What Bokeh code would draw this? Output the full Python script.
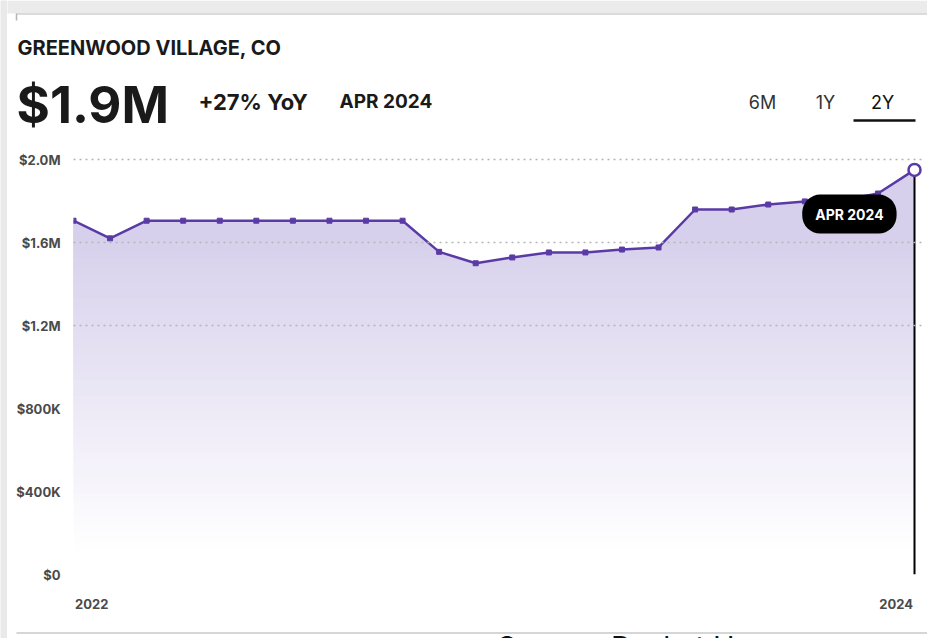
from bokeh.plotting import figure
from bokeh.models import Range1d, FixedTicker, Label, ColumnDataSource
from bokeh.layouts import column, row
from bokeh.embed import file_html
from bokeh.resources import INLINE
from bokeh.core.properties import value
import numpy as np

# ---- data (monthly median sale price, May 2022 .. Apr 2024) ----
months = ["May 2022", "Jun 2022", "Jul 2022", "Aug 2022", "Sep 2022", "Oct 2022",
          "Nov 2022", "Dec 2022", "Jan 2023", "Feb 2023", "Mar 2023", "Apr 2023",
          "May 2023", "Jun 2023", "Jul 2023", "Aug 2023", "Sep 2023", "Oct 2023",
          "Nov 2023", "Dec 2023", "Jan 2024", "Feb 2024", "Mar 2024", "Apr 2024"]
prices = [1705000, 1620000, 1705000, 1705000, 1705000, 1705000,
          1705000, 1705000, 1705000, 1705000, 1555000, 1500000,
          1528000, 1552000, 1552000, 1566000, 1576000, 1759000,
          1759000, 1783000, 1798000, 1802000, 1836000, 1950000]
y_tick_values = [0, 400000, 800000, 1200000, 1600000, 2000000]
y_tick_labels = ["$0", "$400K", "$800K", "$1.2M", "$1.6M", "$2.0M"]
x_tick_labels = ["2022", "2024"]
title_text = "GREENWOOD VILLAGE, CO"
headline = "$1.9M"
yoy_text = "+27% YoY"
period_text = "APR 2024"
tabs = ["6M", "1Y", "2Y"]
source_text = "Source: Rocket Homes"

x = list(range(len(prices)))
FONT = "Inter"
LINE = "#5a3ba6"
SW = 7            # grey page strip on the left
W = 927 - SW      # width of the card column
TOTAL_H = 638

# ---------------- left grey strip ----------------
strip = figure(width=SW, height=TOTAL_H, output_backend="svg", toolbar_location=None,
               min_border=0, outline_line_color=None)
strip.frame_align = False
strip.axis.visible = False
strip.grid.visible = False
strip.background_fill_color = "#e9e9e9"
strip.border_fill_color = "#e9e9e9"

# ---------------- header ----------------
HH = 140
hdr = figure(width=W, height=HH, output_backend="svg", toolbar_location=None,
             x_range=Range1d(SW, SW + W), y_range=Range1d(HH, 0),
             min_border=0, outline_line_color=None)
hdr.frame_align = False
hdr.axis.visible = False
hdr.grid.visible = False
hdr.quad(left=[0], right=[927], top=[0], bottom=[13], fill_color="#ebebeb", line_color=None)
hdr.segment(x0=[16], y0=[13.5], x1=[927], y1=[13.5], line_color="#d0d0d0", line_width=1.5)
hdr.segment(x0=[16], y0=[13], x1=[16], y1=[20], line_color="#b5b5b5", line_width=1.5)


def htext(t, xx, yy, size, color="#1a1a1a", style="bold", align="left"):
    hdr.text(x=[xx], y=[yy], text=[t], text_font=value(FONT),
             text_font_size=f"{size}px", text_color=color, text_font_style=style,
             text_align=align, text_baseline="alphabetic")


htext(title_text, 17, 47, 20)
htext(headline, 16, 104, 51)
htext(yoy_text, 198, 101, 22)
htext(period_text, 339, 101, 19)
htext(tabs[0], 762, 102, 18, color="#333333", style="normal", align="center")
htext(tabs[1], 825, 102, 18, color="#333333", style="normal", align="center")
htext(tabs[2], 882, 102, 18, color="#111111", style="normal", align="center")
hdr.segment(x0=[853], y0=[120], x1=[915], y1=[120], line_color="#111111", line_width=2.5)

# ---------------- chart ----------------
CH = 484
FL, FR = 73 - SW, 914 - SW
FB = 50  # bottom border
px_per_val = 83 / 400000
xr = Range1d(0, 23 * (W - 2 - FL) / (FR - FL))
yr = Range1d(0, (CH - FB) / px_per_val)

p = figure(width=W, height=CH, output_backend="svg", toolbar_location=None,
           x_range=xr, y_range=yr,
           min_border_left=FL, min_border_right=2, min_border_top=0,
           min_border_bottom=FB)
p.frame_align = False
p.outline_line_color = None

# gradient-like fill from overlapping opaque bands (white at bottom -> lavender at top)
pr = np.array(prices, dtype=float)
top_rgb = np.array([215, 208, 236])
bot_rgb = np.array([255, 255, 255])
edges = np.linspace(80000, 1600000, 40)
for i, lo in enumerate(edges):
    f = i / (len(edges) - 1)
    c = bot_rgb + (top_rgb - bot_rgb) * f
    col = "#%02x%02x%02x" % tuple(int(round(v)) for v in c)
    p.varea(x=x, y1=np.minimum(lo, pr), y2=pr, fill_color=col)

src = ColumnDataSource(dict(x=x, y=prices))
p.line("x", "y", source=src, line_color=LINE, line_width=2.5)
p.scatter("x", "y", source=ColumnDataSource(dict(x=x[:-1], y=prices[:-1])),
          marker="square", size=5, fill_color=LINE, line_color=LINE)
p.segment(x0=[x[-1]], y0=[prices[-1]], x1=[x[-1]], y1=[0], line_color="black", line_width=2)
p.scatter([x[-1]], [prices[-1]], marker="circle", size=12, fill_color="white",
          line_color=LINE, line_width=2.5)

for ax in (p.yaxis, p.xaxis):
    ax.axis_line_color = None
    ax.major_tick_line_color = None
    ax.minor_tick_line_color = None
    ax.major_label_text_font = FONT
    ax.major_label_text_font_size = "13px"
    ax.major_label_text_font_style = "bold"
    ax.major_label_text_color = "#4a4a4a"

p.yaxis.ticker = FixedTicker(ticks=y_tick_values)
p.yaxis.major_label_overrides = {v: l for v, l in zip(y_tick_values, y_tick_labels)}
p.yaxis.major_label_standoff = 7

xt = [0.5, x[-1] - 0.5]
p.xaxis.ticker = FixedTicker(ticks=xt)
p.xaxis.major_label_overrides = {v: l for v, l in zip(xt, x_tick_labels)}
p.xaxis.major_label_standoff = 18

p.xgrid.grid_line_color = None
p.ygrid.ticker = FixedTicker(ticks=[1200000, 1600000, 2000000])
p.ygrid.grid_line_color = "#b5b5b5"
p.ygrid.grid_line_dash = "2 4"
p.ygrid.grid_line_width = 1.5
p.ygrid.level = "annotation"

p.add_layout(Label(x=21.22, y=1737000, text=period_text,
                   text_font=FONT, text_font_size="14px", text_font_style="bold",
                   text_color="white", text_align="center", text_baseline="middle",
                   background_fill_color="black", border_radius=18, padding=(13, 11)))

# ---------------- footer (cut off by the window edge) ----------------
FH = TOTAL_H - HH - CH
ftr = figure(width=W, height=FH, output_backend="svg", toolbar_location=None,
             x_range=Range1d(SW, SW + W), y_range=Range1d(FH, 0),
             min_border=0, outline_line_color=None)
ftr.frame_align = False
ftr.axis.visible = False
ftr.grid.visible = False
ftr.segment(x0=[16], y0=[8.5], x1=[927], y1=[8.5], line_color="#d6d6d6", line_width=2)
ftr.text(x=[497], y=[4], text=[source_text], text_font=value(FONT),
         text_font_size="29px", text_color="#111111", text_baseline="top")

layout = row(strip, column(hdr, p, ftr, spacing=0), spacing=0)
open("out.html", "w").write(file_html(layout, INLINE))
